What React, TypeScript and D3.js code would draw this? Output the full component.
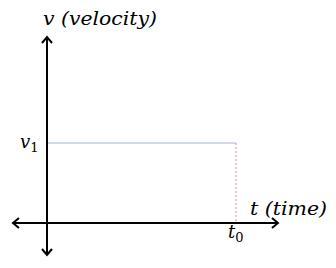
import React from "react";
import * as d3 from "d3";

const timeMarks = [0, 1];
const timeLabels = ["", "t0"];
const velocityValues = [1, 1];
const velocityLabel = "v1";
const xAxisExtent = [-0.18, 1.222];
const yAxisExtent = [-0.4, 2.325];

const W = 336;
const H = 268;

export default function App() {
  const x = d3.scaleLinear().domain([0, 1]).range([47, 236]);
  const y = d3.scaleLinear().domain([0, 1]).range([223, 143]);

  const x0 = x(xAxisExtent[0]);
  const x1 = x(xAxisExtent[1]);
  const yTop = y(yAxisExtent[1]);
  const yBot = y(yAxisExtent[0]);
  const ax = x(0);
  const ay = y(0);

  const line = d3
    .line<[number, number]>()
    .x((d) => x(d[0]))
    .y((d) => y(d[1]));
  const flat: [number, number][] = timeMarks.map((t, i) => [t, velocityValues[i]]);
  const tEnd = timeMarks[timeMarks.length - 1];
  const vEnd = velocityValues[velocityValues.length - 1];

  const a = 5;
  const l = 6;
  const font = "'DejaVu Serif', serif";

  return (
    <svg
      width={W}
      height={H}
      style={{ position: "absolute", left: 0, top: 0, background: "#fff" }}
    >
      <path d={line(flat) || ""} fill="none" stroke="#a3b6ca" strokeWidth={1} />
      <line
        x1={x(tEnd)}
        x2={x(tEnd)}
        y1={y(vEnd)}
        y2={y(0)}
        stroke="#e4808a"
        strokeWidth={1}
        strokeDasharray="2,2"
      />
      <line x1={x0} x2={x1} y1={ay} y2={ay} stroke="#000" strokeWidth={2} />
      <line x1={ax} x2={ax} y1={yTop} y2={yBot} stroke="#000" strokeWidth={2} />
      <g fill="none" stroke="#000" strokeWidth={2} strokeLinejoin="miter">
        <path d={`M${x1 - l},${ay - a}L${x1},${ay}L${x1 - l},${ay + a}`} />
        <path d={`M${x0 + l},${ay - a}L${x0},${ay}L${x0 + l},${ay + a}`} />
        <path d={`M${ax - a},${yTop + l}L${ax},${yTop}L${ax + a},${yTop + l}`} />
        <path d={`M${ax - a},${yBot - l}L${ax},${yBot}L${ax + a},${yBot - l}`} />
      </g>
      <text x={43} y={25} fontFamily={font} fontStyle="italic" fontSize={18} fill="#000" textLength={114} lengthAdjust="spacingAndGlyphs">
        v (velocity)
      </text>
      <text x={250} y={215} fontFamily={font} fontStyle="italic" fontSize={18} fill="#000" textLength={77} lengthAdjust="spacingAndGlyphs">
        t (time)
      </text>
      <text x={20} y={148} fontFamily={font} fontSize={18} fill="#000">
        <tspan fontStyle="italic">{velocityLabel[0]}</tspan>
        <tspan fontSize={13} dy={4}>{velocityLabel.slice(1)}</tspan>
      </text>
      <text x={x(tEnd) - 8} y={238} fontFamily={font} fontSize={18} fill="#000">
        <tspan fontStyle="italic">{timeLabels[1][0]}</tspan>
        <tspan fontSize={13} dy={4}>{timeLabels[1].slice(1)}</tspan>
      </text>
    </svg>
  );
}
